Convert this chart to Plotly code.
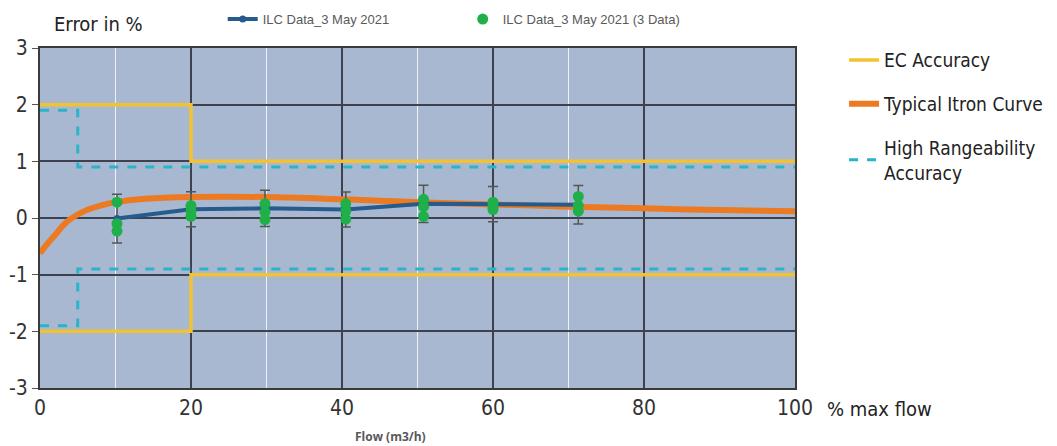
import plotly.graph_objects as go

# ---- data ----
flow_pts = [10.2, 20, 29.8, 40.5, 50.8, 60, 71.3]
ilc_mean = [-0.01, 0.155, 0.17, 0.15, 0.25, 0.245, 0.235]
ilc_err = [0.43, 0.31, 0.32, 0.31, 0.33, 0.31, 0.34]

green_x = [10.2, 10.2, 10.2, 20, 20, 20, 29.8, 29.8, 29.8, 40.5, 40.5, 40.5,
           50.8, 50.8, 50.8, 60, 60, 60, 71.3, 71.3, 71.3]
green_y = [0.28, -0.1, -0.23, 0.22, 0.12, 0.03, 0.25, 0.1, -0.03, 0.25, 0.12, -0.02,
           0.33, 0.2, 0.03, 0.28, 0.2, 0.15, 0.38, 0.22, 0.12]

itron_x = [0, 1, 2, 3, 4, 6, 8, 10, 14, 20, 30, 40, 50, 60, 70, 80, 90, 100]
itron_y = [-0.62, -0.45, -0.3, -0.14, -0.02, 0.13, 0.22, 0.28, 0.34, 0.37, 0.37, 0.33, 0.28, 0.24, 0.2, 0.17, 0.14, 0.12]

ec_x = [0, 20, 20, 100, None, 0, 20, 20, 100]
ec_y = [2, 2, 1, 1, None, -2, -2, -1, -1]

hr_x = [0, 5, 5, 100, None, 0, 5, 5, 100]
hr_y = [1.9, 1.9, 0.9, 0.9, None, -1.9, -1.9, -0.9, -0.9]

x_ticks = [0, 20, 40, 60, 80, 100]
x_minor = [10, 30, 50, 70]
y_ticks = [-3, -2, -1, 0, 1, 2, 3]

COND = "DejaVu Sans Condensed, Liberation Sans Narrow, Arial Narrow, sans-serif"

fig = go.Figure()

fig.add_trace(go.Scatter(x=ec_x, y=ec_y, mode="lines", name="EC Accuracy",
                         line=dict(color="#f2c230", width=3.5), legend="legend2",
                         legendgroup="ec", legendrank=1))
fig.add_trace(go.Scatter(x=hr_x, y=hr_y, mode="lines", name="High Rangeability<br>Accuracy",
                         line=dict(color="#2ab3c9", width=3, dash="dash"), legend="legend2",
                         legendgroup="hr", legendrank=3))
fig.add_trace(go.Scatter(x=itron_x, y=itron_y, mode="lines", name="Typical Itron Curve",
                         line=dict(color="#ec7a22", width=6, shape="spline"), legend="legend2",
                         legendgroup="it", legendrank=2))
fig.add_trace(go.Scatter(x=flow_pts, y=ilc_mean, mode="lines+markers", name="ILC Data_3 May 2021",
                         line=dict(color="#265b8c", width=4),
                         marker=dict(color="#265b8c", size=7),
                         error_y=dict(type="data", array=ilc_err, color="#555555", thickness=1.5, width=5),
                         legend="legend"))
fig.add_trace(go.Scatter(x=green_x, y=green_y, mode="markers", name="ILC Data_3 May 2021 (3 Data)",
                         marker=dict(color="#1fb04a", size=11), legend="legend"))

fig.update_layout(
    width=1041, height=438,
    margin=dict(l=32, r=254, t=40, b=58, autoexpand=False),
    paper_bgcolor="white",
    plot_bgcolor="#a9b8d1",
    legend=dict(orientation="h", x=0.242, y=1.085, xanchor="left", yanchor="middle",
                font=dict(family="Liberation Sans, Open Sans, sans-serif", size=13, color="#595959"),
                bgcolor="rgba(0,0,0,0)", entrywidth=195),
    legend2=dict(orientation="v", x=1.065, y=1.02, xanchor="left", yanchor="top",
                 font=dict(family=COND, size=19, color="#222222"),
                 bgcolor="rgba(0,0,0,0)", tracegroupgap=16),
    showlegend=True,
)

fig.update_xaxes(range=[0, 100], tickvals=x_ticks, ticktext=[str(v) for v in x_ticks],
                 showgrid=True, gridcolor="#3d4150", gridwidth=1.5,
                 minor=dict(tickvals=x_minor, showgrid=True, gridcolor="#eef2f8", gridwidth=1),
                 showline=True, linecolor="#3a3a3a", linewidth=2, mirror=True,
                 ticks="", zeroline=False,
                 tickfont=dict(family=COND, size=21, color="#333333"))
fig.update_yaxes(range=[-3, 3], tickvals=y_ticks, ticktext=[str(v) for v in y_ticks],
                 showgrid=True, gridcolor="#3d4150", gridwidth=1.5,
                 showline=True, linecolor="#3a3a3a", linewidth=2, mirror=True,
                 ticks="outside", ticklen=6, tickcolor="#555555", zeroline=False,
                 tickfont=dict(family=COND, size=21, color="#333333"))

fig.add_annotation(text="Error in %", xref="paper", yref="paper", x=0.016, y=1.0,
                   xanchor="left", yanchor="bottom", yshift=10, showarrow=False,
                   font=dict(family=COND, size=20, color="#222222"))
fig.add_annotation(text="% max flow", xref="paper", yref="paper", x=1.04, y=0,
                   xanchor="left", yanchor="top", yshift=-7, showarrow=False,
                   font=dict(family=COND, size=20, color="#222222"))
fig.add_annotation(text="<b>Flow (m3/h)</b>", xref="paper", yref="paper", x=0.464, y=0,
                   xanchor="center", yanchor="top", yshift=-38, showarrow=False,
                   font=dict(family="Open Sans, sans-serif", size=12, color="#595959"))

fig.write_html("out.html")
